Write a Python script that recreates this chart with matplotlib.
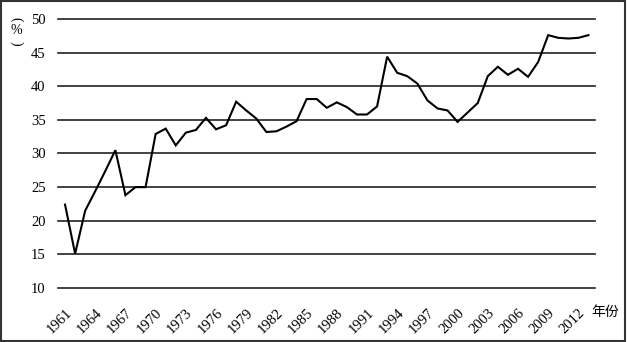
import matplotlib
matplotlib.use('Agg')
import matplotlib.pyplot as plt
import numpy as np

years = list(range(1961, 2014))
share = [22.4, 15.1, 21.5, 24.4, 27.4, 30.5, 23.8, 25.0, 25.0, 32.9,
         33.7, 31.2, 33.1, 33.5, 35.3, 33.6, 34.2, 37.7, 36.4, 35.2,
         33.2, 33.3, 34.0, 34.8, 38.1, 38.1, 36.8, 37.6, 36.9, 35.8,
         35.8, 37.0, 44.4, 42.0, 41.5, 40.4, 37.9, 36.7, 36.4, 34.7,
         36.1, 37.5, 41.5, 42.9, 41.7, 42.6, 41.4, 43.6, 47.6, 47.2,
         47.1, 47.2, 47.6]
yticks = [10, 15, 20, 25, 30, 35, 40, 45, 50]
xticks = list(range(1961, 2013, 3))

plt.rcParams['font.family'] = ['Liberation Serif', 'Noto Sans CJK SC', 'DejaVu Sans']

fig = plt.figure(figsize=(6.27, 3.42), dpi=100)
ax = fig.add_axes([58 / 627, 1 - 288 / 342, (595 - 58) / 627, (288 - 19) / 342])

ax.plot(years, share, color='black', lw=1.5, solid_joinstyle='miter')

ax.set_xlim(1960.3, 2013.65)
ax.set_ylim(10, 50)
ax.set_yticks(yticks)
ax.set_xticks(xticks)
ax.set_xticklabels([str(x) for x in xticks], rotation=45, ha='right', va='top',
                   rotation_mode='anchor')
ax.tick_params(axis='both', length=0, labelsize=10.5, colors='black')
ax.tick_params(axis='x', pad=13)
ax.tick_params(axis='y', pad=9)
ax.yaxis.grid(True, color='#222222', lw=1.2)
for gl in ax.get_ygridlines():
    gl.set_clip_on(False)
ax.set_axisbelow(True)
for s in ax.spines.values():
    s.set_visible(False)

# vertical unit label: rotated brackets around %
fig.text(16 / 627, 1 - 19 / 342, '(', ha='center', va='center', fontsize=10, rotation=-90)
fig.text(16 / 627, 1 - 31 / 342, '%', ha='center', va='center', fontsize=10)
fig.text(16 / 627, 1 - 43 / 342, ')', ha='center', va='center', fontsize=10, rotation=-90)
fig.text(605 / 627, 1 - 312 / 342, '年份', ha='center', va='center', fontsize=10,
         family=['Noto Sans CJK SC'])

# border around the whole picture
fig.patches.append(plt.Rectangle((0.002, 0.003), 0.995, 0.994, transform=fig.transFigure,
                                 fill=False, edgecolor='#333333', lw=1.5))

fig.savefig('out.png', dpi=100)
